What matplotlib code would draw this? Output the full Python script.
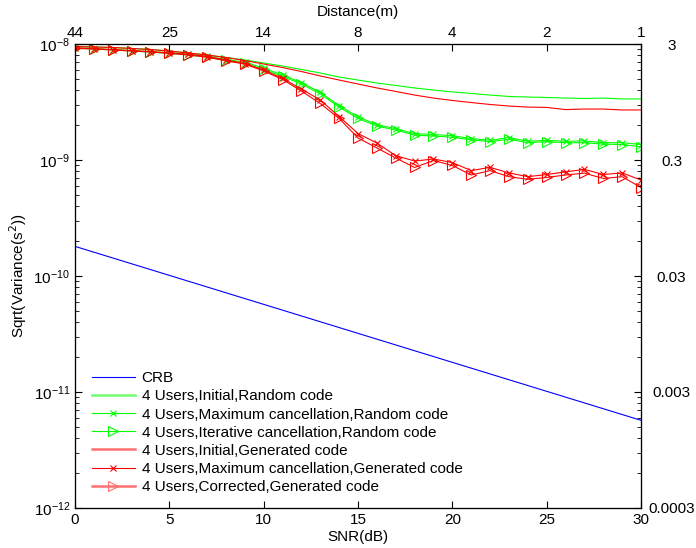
import matplotlib
matplotlib.use("Agg")
import matplotlib.pyplot as plt
from matplotlib.ticker import FixedLocator, FixedFormatter, LogLocator, NullFormatter

plt.rcParams['font.family'] = ['Liberation Sans', 'DejaVu Sans']
plt.rcParams['font.size'] = 11

# SNR grid (dB) and curves, values in units of 1e-9 s
snr = list(range(31))

crb_snr = [0, 30]
crb = [0.18, 0.0057]

init_rand = [9.51, 9.42, 9.33, 9.15, 8.97, 8.70, 8.36, 8.04, 7.65, 7.28,
             6.86, 6.46, 6.03, 5.62, 5.19, 4.89, 4.61, 4.39, 4.18, 4.01,
             3.86, 3.75, 3.63, 3.53, 3.49, 3.46, 3.42, 3.39, 3.42, 3.36, 3.36]
maxc_rand = [9.25, 9.12, 8.95, 8.78, 8.60, 8.40, 8.15, 7.85, 7.35, 6.98,
             6.20, 5.40, 4.65, 3.82, 2.95, 2.35, 2.02, 1.86, 1.69, 1.66,
             1.62, 1.53, 1.48, 1.56, 1.45, 1.48, 1.45, 1.46, 1.41, 1.41, 1.36]
iter_rand = [9.18, 9.06, 8.88, 8.70, 8.53, 8.31, 8.04, 7.73, 7.21, 6.82,
             6.03, 5.25, 4.52, 3.71, 2.86, 2.28, 1.96, 1.81, 1.64, 1.61,
             1.57, 1.49, 1.44, 1.51, 1.41, 1.44, 1.41, 1.41, 1.37, 1.36, 1.30]
init_gen = [9.51, 9.42, 9.33, 9.15, 8.97, 8.70, 8.36, 8.04, 7.65, 7.21,
            6.72, 6.27, 5.79, 5.30, 4.89, 4.52, 4.18, 3.90, 3.63, 3.42,
            3.26, 3.13, 3.01, 2.92, 2.86, 2.84, 2.72, 2.75, 2.75, 2.70, 2.70]
maxc_gen = [9.25, 9.12, 8.95, 8.78, 8.60, 8.40, 8.15, 7.80, 7.30, 6.79,
            5.97, 5.05, 4.09, 3.29, 2.37, 1.69, 1.40, 1.09, 0.98, 1.02,
            0.95, 0.81, 0.865, 0.774, 0.718, 0.75, 0.79, 0.83, 0.75, 0.774, 0.672]
corr_gen = [9.18, 9.06, 8.88, 8.70, 8.53, 8.31, 8.04, 7.70, 7.15, 6.72,
            5.85, 4.94, 3.93, 3.07, 2.28, 1.55, 1.27, 1.04, 0.862, 0.99,
            0.897, 0.743, 0.81, 0.718, 0.682, 0.707, 0.743, 0.77, 0.693, 0.718, 0.579]

top_ticks = [0, 5, 10, 15, 20, 25, 30]
top_labels = ['44', '25', '14', '8', '4', '2', '1']
right_ticks = [1e-12, 1e-11, 1e-10, 1e-9, 1e-8]
right_labels = ['0.0003', '0.003', '0.03', '0.3', '3']


def sc(v):
    return [x * 1e-9 for x in v]


fig = plt.figure(figsize=(6.96, 5.48), dpi=100)
ax = fig.add_axes([0.1078, 0.073, 0.8132, 0.8467])

G = '#00ff00'
R = '#ff0000'
lw = 0.8
ax.plot(crb_snr, sc(crb), color='#0000ff', lw=lw, label='CRB')
ax.plot(snr, sc(init_rand), color=G, lw=lw, label='4 Users,Initial,Random code')
ax.plot(snr, sc(maxc_rand), color=G, lw=lw, marker='x', ms=5, mew=0.8,
        label='4 Users,Maximum cancellation,Random code')
ax.plot(snr, sc(iter_rand), color=G, lw=lw, marker='>', ms=7, mfc='none', mew=0.8,
        label='4 Users,Iterative cancellation,Random code')
ax.plot(snr, sc(init_gen), color=R, lw=lw, label='4 Users,Initial,Generated code')
ax.plot(snr, sc(maxc_gen), color=R, lw=lw, marker='x', ms=5, mew=0.8,
        label='4 Users,Maximum cancellation,Generated code')
ax.plot(snr, sc(corr_gen), color=R, lw=lw, marker='>', ms=7, mfc='none', mew=0.8,
        label='4 Users,Corrected,Generated code')

ax.set_yscale('log')
ax.set_xlim(0, 30)
ax.set_ylim(1e-12, 1e-8)
ax.set_xticks(top_ticks)
ax.yaxis.set_minor_locator(LogLocator(base=10, subs=range(2, 10)))
ax.yaxis.set_minor_formatter(NullFormatter())
ax.tick_params(which='both', direction='in', top=False, right=False)
ax.tick_params(which='major', length=5)
ax.tick_params(which='minor', length=3)
ax.set_xlabel('SNR(dB)', labelpad=2)
ax.set_ylabel('Sqrt(Variance(s$^2$))', labelpad=3)

leg = ax.legend(loc='lower left', bbox_to_anchor=(0.03, 0.03), frameon=False,
                borderpad=0, borderaxespad=0, labelspacing=0.27,
                handlelength=2.8, handletextpad=0.45, fontsize=11)
lines = leg.get_lines()
lines[1].set_color('#70ff70')
lines[1].set_linewidth(1.8)
lines[4].set_color('#ff7070')
lines[4].set_linewidth(1.8)
lines[6].set_color('#ff7070')
lines[6].set_linewidth(1.8)

# top distance axis
axt = ax.twiny()
axt.set_xlim(0, 30)
axt.xaxis.set_major_locator(FixedLocator(top_ticks))
axt.xaxis.set_major_formatter(FixedFormatter(top_labels))
axt.tick_params(direction='in', length=5, pad=3)
axt.set_xlabel('Distance(m)', labelpad=7)

# right axis in metres
axr = ax.twinx()
axr.set_yscale('log')
axr.set_ylim(1e-12, 1e-8)
axr.yaxis.set_major_locator(FixedLocator(right_ticks))
axr.yaxis.set_major_formatter(FixedFormatter(right_labels))
axr.yaxis.set_minor_locator(LogLocator(base=10, subs=range(2, 10)))
axr.yaxis.set_minor_formatter(NullFormatter())
axr.tick_params(which='both', direction='in')
axr.tick_params(which='major', length=5, pad=22)
axr.tick_params(which='minor', length=3)
for t in axr.get_yticklabels():
    t.set_horizontalalignment('center')

fig.savefig('out.png', dpi=100)
